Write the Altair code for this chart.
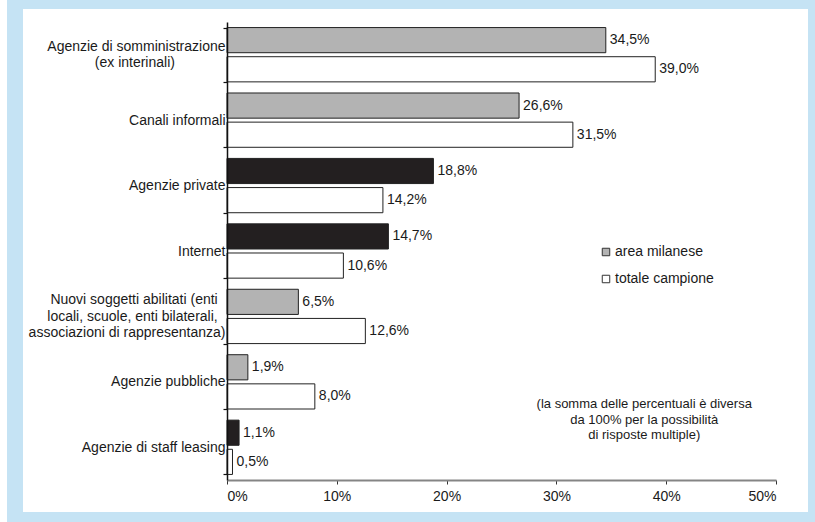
import altair as alt
import pandas as pd

NB = "\u00a0"
ZW = "\u200b"

# ---- data ----
categories = [
    "Agenzie di somministrazione|(ex interinali)" + NB * 13 + ZW,
    "Canali informali",
    "Agenzie private",
    "Internet",
    "Nuovi soggetti abilitati (enti" + NB * 2 + ZW + "|locali, scuole, enti bilaterali," + NB * 2 + ZW + "|associazioni di rappresentanza)",
    "Agenzie pubbliche",
    "Agenzie di staff leasing",
]
series = ["area milanese", "totale campione"]
milan = [34.5, 26.6, 18.8, 14.7, 6.5, 1.9, 1.1]
total = [39.0, 31.5, 14.2, 10.6, 12.6, 8.0, 0.5]
highlight = [0, 0, 1, 1, 0, 0, 1]
x_ticks = [0, 10, 20, 30, 40, 50]
note_lines = [
    "(la somma delle percentuali è diversa",
    "da 100% per la possibilità",
    "di risposte multiple)",
]

rows = []
for c, m, t, h in zip(categories, milan, total, highlight):
    rows.append({"cat": c, "series": series[0], "value": m, "highlight": h,
                 "label": f"{m:.1f}".replace(".", ",") + "%"})
    rows.append({"cat": c, "series": series[1], "value": t, "highlight": 0,
                 "label": f"{t:.1f}".replace(".", ",") + "%"})
df = pd.DataFrame(rows)

FONT = "Liberation Sans"
TXT = "#1a1a1a"
LH = 16.5

x_enc = alt.X(
    "value:Q",
    scale=alt.Scale(domain=[0, 50], nice=False),
    axis=alt.Axis(
        title=None, values=x_ticks, labelExpr="datum.value + '%'", grid=False,
        domainColor="#858585", domainWidth=2, tickColor="#333333", tickSize=4,
        labelFont=FONT, labelFontSize=14, labelColor=TXT, labelPadding=5,
        zindex=1,
    ),
)
y_enc = alt.Y(
    "cat:N", sort=categories,
    scale=alt.Scale(paddingInner=0.17, paddingOuter=0.085),
    axis=alt.Axis(
        title=None, labelExpr="split(datum.label, '|')", tickBand="extent",
        domainColor="#111111", domainWidth=1.5, tickColor="#111111", tickSize=4,
        tickWidth=1.2,
        labelPadding=-2, labelFont=FONT, labelFontSize=14, labelColor=TXT,
        labelLimit=400, labelLineHeight=LH, zindex=1,
        labelOffset={
            "condition": [
                {"test": "length(split(datum.value, '|')) == 3", "value": -LH},
                {"test": "length(split(datum.value, '|')) == 2", "value": -LH / 2},
            ],
            "value": 0,
        },
    ),
)
yoff_enc = alt.YOffset("series:N", sort=series,
                       scale=alt.Scale(paddingInner=0.137, paddingOuter=0))

one = pd.DataFrame({"k": [0]})

panel = alt.Chart(one).mark_rect(color="white").encode(
    x=alt.value(-204), x2=alt.value(581), y=alt.value(-13), y2=alt.value(490)
)
strip = alt.Chart(one).mark_rect(color="white").encode(
    x=alt.value(-227), x2=alt.value(-220), y=alt.value(-22), y2=alt.value(500)
)

bars = alt.Chart(df).mark_bar(stroke="#222222", strokeWidth=1).encode(
    x=x_enc, y=y_enc, yOffset=yoff_enc,
    fill=alt.condition(
        "datum.highlight == 1",
        alt.value("#231f20"),
        alt.Fill(
            "series:N",
            scale=alt.Scale(domain=series, range=["#b3b3b3", "#ffffff"]),
            legend=alt.Legend(
                title=None, orient="none", legendX=372, legendY=223,
                symbolType="square", symbolSize=56, symbolStrokeColor="#333333",
                symbolStrokeWidth=1, labelFont=FONT, labelFontSize=14,
                labelColor=TXT, rowPadding=13, labelOffset=2,
            ),
        ),
    ),
)

labels = alt.Chart(df).mark_text(
    align="left", baseline="middle", dx=4, font=FONT, fontSize=14, color=TXT
).encode(x=x_enc, y=y_enc, yOffset=yoff_enc, text="label:N")

note = alt.Chart(one).mark_text(
    text=note_lines, align="center", baseline="middle", font=FONT,
    fontSize=13, lineHeight=15.5, color=TXT
).encode(x=alt.datum(38.0), y=alt.value(382))

chart = alt.layer(panel, strip, bars, labels, note).properties(
    width=549, height=458,
    autosize=alt.AutoSizeParams(type="none"),
    padding={"left": 227, "top": 22, "right": 39, "bottom": 42},
    background="#c5e3f4",
).configure_view(strokeWidth=0)

chart.save("out.html", embed_options={"renderer": "svg", "actions": False})
